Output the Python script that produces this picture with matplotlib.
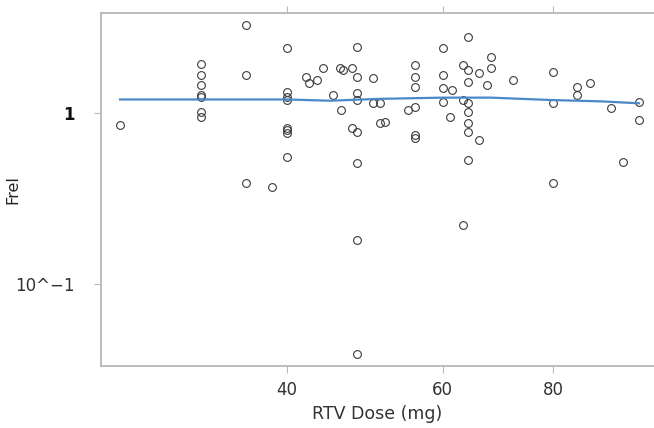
import numpy as np
import matplotlib
matplotlib.use("Agg")
import matplotlib.pyplot as plt
from matplotlib.ticker import FixedLocator, FixedFormatter, NullLocator

# observed relative bioavailability vs ritonavir dose
dose = [25.9, 32, 32, 32, 32, 32, 32, 32, 36, 36, 36, 38.5,
        40, 40, 40, 40, 40, 40, 40, 40, 42, 42.4, 43.3, 43.9,
        45.1, 46, 45.9, 46.3, 47.4, 48, 48, 50, 48, 48, 50, 50.9,
        47.4, 48, 50.9, 51.6, 48, 48, 48,
        55.8, 55.8, 55.8, 54.8, 55.8, 55.8, 55.8,
        64, 60, 68, 68, 67.3, 63.3, 64, 66, 60, 64, 60, 61.5, 72,
        60, 63.3, 64, 61.2, 64, 64, 64, 66, 64, 63.3,
        80, 85, 85, 88, 80, 93, 100, 100, 96, 80]
frel = [0.85, 1.93, 1.67, 1.46, 1.27, 1.24, 1.01, 0.95, 3.27, 1.67, 0.39, 0.37,
        2.40, 1.33, 1.24, 1.19, 0.82, 0.80, 0.76, 0.55, 1.62, 1.50, 1.56, 1.83,
        1.27, 1.04, 1.83, 1.78, 1.83, 2.43, 1.62, 1.60, 1.31, 1.19, 1.14, 1.14,
        0.82, 0.77, 0.87, 0.89, 0.51, 0.18, 0.039,
        1.91, 1.62, 1.42, 1.04, 1.08, 0.74, 0.71,
        2.78, 2.40, 2.13, 1.83, 1.46, 1.91, 1.78, 1.71, 1.67, 1.52, 1.40, 1.36, 1.56,
        1.16, 1.19, 1.14, 0.95, 1.01, 0.87, 0.77, 0.70, 0.53, 0.22,
        1.74, 1.42, 1.27, 1.50, 1.14, 1.07, 1.16, 0.91, 0.52, 0.39]

# smoother through the points
smooth_dose = [25.9, 32, 40, 44.7, 50.9, 60, 68, 80, 90.5, 100]
smooth_frel = [1.20, 1.20, 1.20, 1.18, 1.21, 1.23, 1.23, 1.19, 1.17, 1.14]

x_ticks = [40, 60, 80]
x_ticklabels = ["40", "60", "80"]
y_ticks = [0.1, 1]
y_ticklabels = ["10^\u22121", "1"]

fig = plt.figure(figsize=(6.54, 4.28), dpi=100)
ax = fig.add_axes([101 / 654, 1 - 366 / 428, 1 - 101 / 654, (366 - 13) / 428])

ax.plot(dose, frel, linestyle="none", marker="o", markersize=5.6,
        markerfacecolor="none", markeredgecolor="#3a3a3a", markeredgewidth=0.8)
ax.plot(smooth_dose, smooth_frel, color="#4a88c7", linewidth=1.6)

ax.set_xscale("log")
ax.set_yscale("log")
ax.set_xlim(24.65, 104.0)
ax.set_ylim(0.03315, 3.845)

ax.xaxis.set_major_locator(FixedLocator(x_ticks))
ax.xaxis.set_major_formatter(FixedFormatter(x_ticklabels))
ax.xaxis.set_minor_locator(NullLocator())
ax.yaxis.set_major_locator(FixedLocator(y_ticks))
ax.yaxis.set_major_formatter(FixedFormatter(y_ticklabels))
ax.yaxis.set_minor_locator(NullLocator())

for s in ["left", "bottom", "top"]:
    ax.spines[s].set_color("#b8b8b8")
    ax.spines[s].set_linewidth(1.3)
ax.spines["right"].set_visible(False)

ax.tick_params(axis="x", which="major", top=True, direction="out", length=5,
               color="#b8b8b8", labelsize=12, labelcolor="#333333", pad=6)
ax.tick_params(axis="y", which="major", direction="out", length=5,
               color="#b8b8b8", labelsize=12, labelcolor="#333333", pad=14)
for lab in ax.get_yticklabels():
    if lab.get_text() == "1":
        lab.set_fontweight("bold")
        lab.set_color("#111111")

ax.set_xlabel("RTV Dose (mg)", fontsize=12.5, color="#333333", labelpad=4)
ax.set_ylabel("Frel", fontsize=11.5, color="#222222")
ax.yaxis.set_label_coords(-0.145, 0.5)

fig.savefig("out.png", dpi=100)
